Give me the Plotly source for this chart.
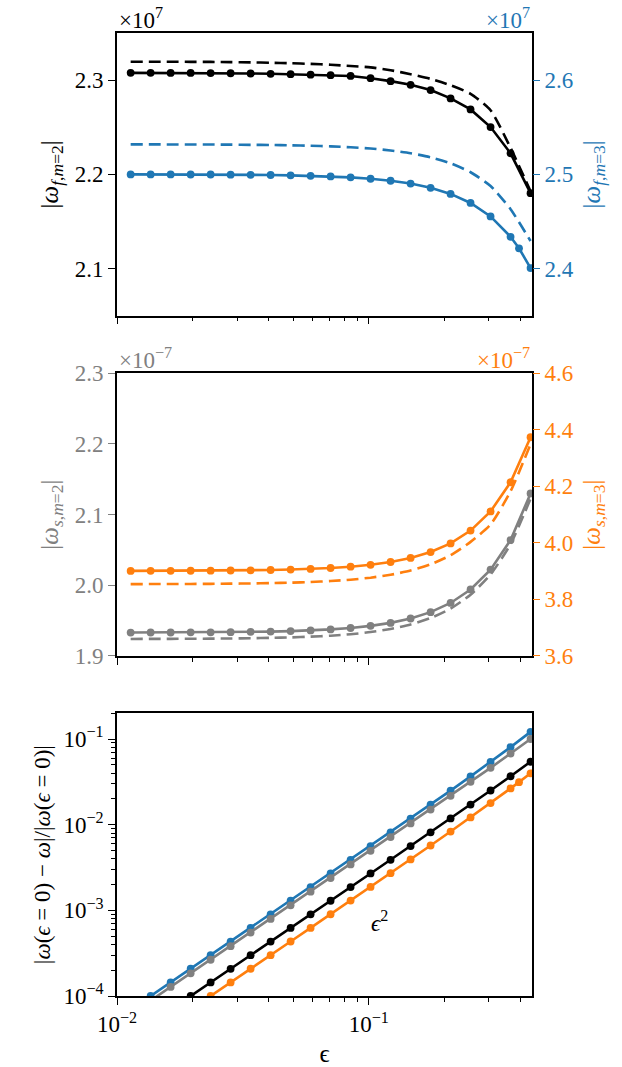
import math
import plotly.graph_objects as go

# epsilon grid (shared by all runs)
eps = [0.01133, 0.01360, 0.01633, 0.01961, 0.02354, 0.02826, 0.03393, 0.04074,
       0.04891, 0.05872, 0.07050, 0.08465, 0.1016, 0.1220, 0.1465, 0.1759,
       0.2112, 0.2535, 0.3044, 0.3655, 0.4388]
# the m=3 fast run has one extra sample near the end
eps_m3f = eps[:19] + [0.3655, 0.3948, 0.4388]

# fast modes, units of 1e7
wf_m2 = [2.3077, 2.3077, 2.3076, 2.3076, 2.3075, 2.3073, 2.3070, 2.3067, 2.3063,
         2.3058, 2.3052, 2.3044, 2.3020, 2.2989, 2.2950, 2.2894, 2.2806, 2.2689,
         2.2502, 2.2223, 2.1800]
wf_m2_approx = [2.3195, 2.3195, 2.3195, 2.3194, 2.3193, 2.3191, 2.3188, 2.3184,
                2.3179, 2.3172, 2.3163, 2.3150, 2.3135, 2.3105, 2.3063, 2.3013,
                2.2945, 2.2855, 2.2680, 2.2280, 2.1820]
wf_m3 = [2.4999, 2.4999, 2.4999, 2.4998, 2.4998, 2.4996, 2.4995, 2.4993, 2.4989,
         2.4984, 2.4978, 2.4968, 2.4953, 2.4932, 2.4902, 2.4857, 2.4792, 2.4696,
         2.4553, 2.4337, 2.4215, 2.4005]
wf_m3_approx = [2.5318, 2.5318, 2.5317, 2.5316, 2.5316, 2.5315, 2.5313, 2.5311,
                2.5308, 2.5303, 2.5297, 2.5287, 2.5274, 2.5253, 2.5224, 2.5181,
                2.5117, 2.5022, 2.4876, 2.4630, 2.4292]

# slow modes, units of 1e-7
ws_m2 = [1.9331, 1.9332, 1.9332, 1.9334, 1.9335, 1.9337, 1.9341, 1.9345, 1.9352,
         1.9362, 1.9376, 1.9396, 1.9426, 1.9468, 1.9530, 1.9620, 1.9750, 1.9941,
         2.0222, 2.0640, 2.1300]
ws_m2_approx = [1.9241, 1.9242, 1.9242, 1.9244, 1.9245, 1.9248, 1.9251, 1.9256,
                1.9263, 1.9273, 1.9287, 1.9308, 1.9338, 1.9382, 1.9445, 1.9537,
                1.9671, 1.9867, 2.0155, 2.0583, 2.1225]
ws_m3 = [3.9010, 3.9011, 3.9013, 3.9015, 3.9019, 3.9024, 3.9031, 3.9042, 3.9057,
         3.9080, 3.9112, 3.9159, 3.9226, 3.9325, 3.9467, 3.9676, 3.9983, 4.0436,
         4.1115, 4.2146, 4.3739]
ws_m3_approx = [3.8543, 3.8544, 3.8546, 3.8548, 3.8552, 3.8558, 3.8565, 3.8577,
                3.8593, 3.8616, 3.8650, 3.8699, 3.8770, 3.8873, 3.9022, 3.9241,
                3.9562, 4.0037, 4.0650, 4.1828, 4.3496]

# relative deviation from the eps = 0 frequency
rel_blue = [6.92e-5, 1.00e-4, 1.44e-4, 2.08e-4, 2.99e-4, 4.32e-4, 6.22e-4, 8.98e-4,
            1.294e-3, 1.868e-3, 2.695e-3, 3.894e-3, 5.62e-3, 8.14e-3, 0.01180,
            0.01716, 0.02501, 0.03663, 0.05405, 0.08048, 0.1213]
rel_gray = [6.12e-5, 8.84e-5, 1.276e-4, 1.840e-4, 2.648e-4, 3.82e-4, 5.50e-4,
            7.94e-4, 1.145e-3, 1.651e-3, 2.381e-3, 3.436e-3, 4.956e-3, 7.161e-3,
            0.01036, 0.01500, 0.02175, 0.03162, 0.04616, 0.06775, 0.1001]
rel_black = [3.33e-5, 4.81e-5, 6.94e-5, 1.001e-4, 1.440e-4, 2.077e-4, 2.993e-4,
             4.32e-4, 6.23e-4, 8.98e-4, 1.295e-3, 1.869e-3, 2.695e-3, 3.894e-3,
             5.632e-3, 8.154e-3, 0.01182, 0.01718, 0.02507, 0.03678, 0.05432]
rel_orange = [2.31e-5, 3.34e-5, 4.82e-5, 6.95e-5, 1.000e-4, 1.442e-4, 2.08e-4,
              3.00e-4, 4.33e-4, 6.24e-4, 9.00e-4, 1.300e-3, 1.877e-3, 2.716e-3,
              3.936e-3, 5.714e-3, 8.320e-3, 0.01216, 0.01789, 0.02653, 0.0314,
              0.03979]

BLUE = "#1f77b4"
ORANGE = "#ff7f0e"
GRAY = "#808080"
BLACK = "#000000"
FONT = "Liberation Serif, DejaVu Serif, serif"
FS = 23
TITLE_FS = 25
X_MAX = 0.4446
X_RANGE = [-2, math.log10(X_MAX)]

fig = go.Figure()


def solid(x, y, color, xa, ya):
    fig.add_trace(go.Scatter(
        x=x, y=y, mode="lines+markers", xaxis=xa, yaxis=ya,
        line=dict(color=color, width=2.6),
        marker=dict(color=color, size=7.8), showlegend=False))


def dashed(x, y, color, xa, ya):
    fig.add_trace(go.Scatter(
        x=x, y=y, mode="lines", xaxis=xa, yaxis=ya,
        line=dict(color=color, width=2.6, dash="12px,6px", shape="spline",
                  smoothing=0.6),
        showlegend=False))


# top panel: fast modes
solid(eps, wf_m2, BLACK, "x2", "y")
dashed(eps, wf_m2_approx, BLACK, "x2", "y")
solid(eps_m3f, wf_m3, BLUE, "x2", "y2")
dashed(eps, wf_m3_approx, BLUE, "x2", "y2")

# middle panel: slow modes
solid(eps, ws_m2, GRAY, "x3", "y3")
dashed(eps, ws_m2_approx, GRAY, "x3", "y3")
solid(eps, ws_m3, ORANGE, "x3", "y4")
dashed(eps, ws_m3_approx, ORANGE, "x3", "y4")

# bottom panel: relative deviation
solid(eps, rel_blue, BLUE, "x", "y5")
solid(eps, rel_gray, GRAY, "x", "y5")
solid(eps, rel_black, BLACK, "x", "y5")
solid(eps_m3f, rel_orange, ORANGE, "x", "y5")

minor_x = [0.02, 0.03, 0.04, 0.05, 0.06, 0.07, 0.08, 0.09, 0.2, 0.3, 0.4]
minor_y = [m * 10 ** p for p in (-4, -3, -2) for m in range(2, 10)] + [0.2]

tickfont = dict(family=FONT, size=FS, color=BLACK)


def xaxis_spec(anchor, labels):
    return dict(
        type="log", range=X_RANGE, anchor=anchor, automargin=False,
        showline=True, linecolor=BLACK, linewidth=1.6, mirror=True,
        ticks="outside", ticklen=7, tickwidth=1.4, tickcolor=BLACK,
        tickvals=[0.01, 0.1],
        ticktext=["10<sup>−2</sup>", "10<sup>−1</sup>"] if labels else ["", ""],
        showticklabels=labels, tickfont=tickfont,
        minor=dict(tickvals=minor_x, ticks="outside", ticklen=4, tickwidth=1.1,
                   tickcolor=BLACK, showgrid=False),
        showgrid=False, zeroline=False)


def yaxis_spec(domain, rng, vals, text, color, title, side="left",
               overlay=None, anchor=None, standoff=9, title_size=TITLE_FS):
    d = dict(
        range=rng, tickvals=vals, ticktext=text, side=side, automargin=False,
        ticks="outside", ticklen=7, tickwidth=1.4, tickcolor=color,
        tickfont=dict(family=FONT, size=FS, color=color),
        title=dict(text=title,
                   font=dict(family=FONT, size=title_size, color=color),
                   standoff=standoff),
        showgrid=False, zeroline=False)
    if overlay:
        d.update(overlaying=overlay, anchor=anchor, showline=False)
    else:
        d.update(domain=domain, anchor=anchor, showline=True, linecolor=BLACK,
                 linewidth=1.6, mirror=True)
    return d


D1 = [0.7065, 1.0]
D2 = [0.3531, 0.6466]
D3 = [0.0, 0.2936]

fig.update_layout(
    width=622, height=1067,
    margin=dict(l=117, r=90, t=33, b=71),
    paper_bgcolor="white", plot_bgcolor="white",
    font=dict(family=FONT, size=FS, color=BLACK),
    xaxis=dict(xaxis_spec("y5", True),
               title=dict(text="ϵ", font=dict(family=FONT, size=FS + 2),
                          standoff=16)),
    xaxis2=dict(xaxis_spec("y", False), matches="x"),
    xaxis3=dict(xaxis_spec("y3", False), matches="x"),
    yaxis=yaxis_spec(D1, [2.05, 2.35], [2.1, 2.2, 2.3], ["2.1", "2.2", "2.3"],
                     BLACK, "|<i>ω</i><sub><i>f</i>,<i>m</i>=2</sub>|",
                     anchor="x2"),
    yaxis2=yaxis_spec(None, [2.35, 2.65], [2.4, 2.5, 2.6],
                      ["2.4", "2.5", "2.6"], BLUE,
                      "|<i>ω</i><sub><i>f</i>,<i>m</i>=3</sub>|",
                      side="right", overlay="y", anchor="x2"),
    yaxis3=yaxis_spec(D2, [1.9, 2.3], [1.9, 2.0, 2.1, 2.2, 2.3],
                      ["1.9", "2.0", "2.1", "2.2", "2.3"], GRAY,
                      "|<i>ω</i><sub><i>s</i>,<i>m</i>=2</sub>|", anchor="x3"),
    yaxis4=yaxis_spec(None, [3.6, 4.6], [3.6, 3.8, 4.0, 4.2, 4.4, 4.6],
                      ["3.6", "3.8", "4.0", "4.2", "4.4", "4.6"], ORANGE,
                      "|<i>ω</i><sub><i>s</i>,<i>m</i>=3</sub>|",
                      side="right", overlay="y3", anchor="x3"),
    yaxis5=dict(
        yaxis_spec(D3, [-4, -0.69897], [1e-4, 1e-3, 1e-2, 1e-1],
                   ["10<sup>−4</sup>", "10<sup>−3</sup>", "10<sup>−2</sup>",
                    "10<sup>−1</sup>"], BLACK,
                   "|<i>ω</i>(<i>ϵ</i> = 0) − <i>ω</i>|/|<i>ω</i>(<i>ϵ</i> = 0)|",
                   anchor="x", standoff=6, title_size=FS),
        type="log",
        minor=dict(tickvals=minor_y, ticks="outside", ticklen=4, tickwidth=1.1,
                   tickcolor=BLACK, showgrid=False)),
)


def note(text, x, y, color, xanchor, yanchor="bottom", size=FS):
    fig.add_annotation(text=text, x=x, y=y, xref="paper", yref="paper",
                       xanchor=xanchor, yanchor=yanchor, showarrow=False,
                       yshift=-2, font=dict(family=FONT, size=size, color=color))


# offset multipliers above each panel
note("×10<sup>7</sup>", 0.0, D1[1], BLACK, "left")
note("×10<sup>7</sup>", 1.0, D1[1], BLUE, "right")
note("×10<sup>−7</sup>", 0.0, D2[1], GRAY, "left")
note("×10<sup>−7</sup>", 1.0, D2[1], ORANGE, "right")

# slope label
fig.add_annotation(text="<i>ϵ</i><sup>2</sup>", x=math.log10(0.11),
                   y=math.log10(7.5e-4), xref="x", yref="y5", showarrow=False,
                   font=dict(family=FONT, size=FS, color=BLACK))

fig.write_html("out.html")
